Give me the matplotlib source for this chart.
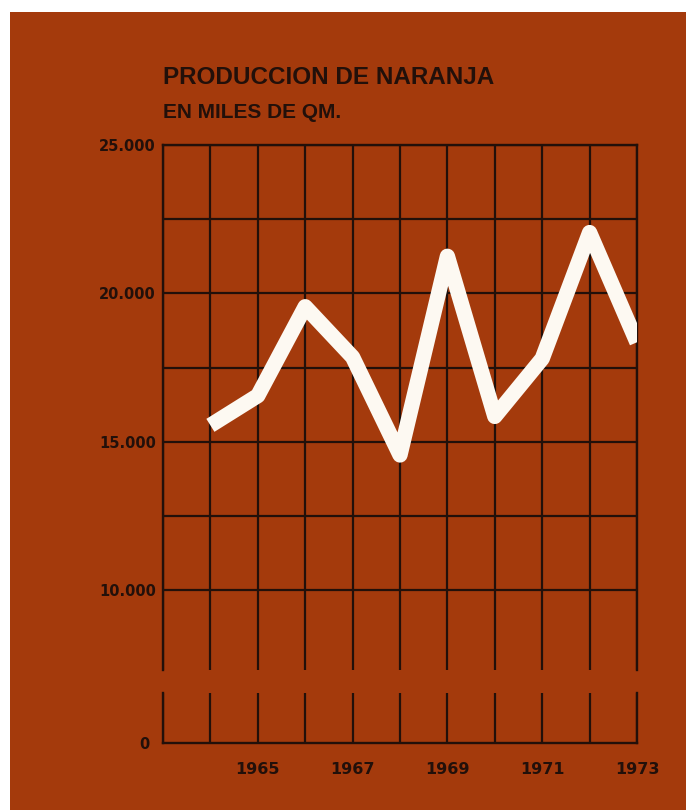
import matplotlib
matplotlib.use("Agg")
import matplotlib.pyplot as plt
from matplotlib.patches import Rectangle

# ---- data ----
years = [1964, 1965, 1966, 1967, 1968, 1969, 1970, 1971, 1972, 1973]
produccion = [15550, 16550, 19550, 17850, 14550, 21250, 15850, 17800, 22050, 18350]
xtick_years = [1965, 1967, 1969, 1971, 1973]
xtick_labels = ["1965", "1967", "1969", "1971", "1973"]
ytick_values = [10000, 15000, 20000, 25000]
ytick_labels = ["10.000", "15.000", "20.000", "25.000"]
title = "PRODUCCION DE NARANJA"
subtitle = "EN MILES DE QM."

W, H = 686, 810
BG = "#A43A0C"
INK = "#22100a"
LINE = "#fdf9f2"

fig = plt.figure(figsize=(W / 100, H / 100), dpi=100, facecolor="white")
fig.patches.append(Rectangle((10 / W, 0), 1 - 10 / W, 1 - 12 / H,
                             transform=fig.transFigure, facecolor=BG,
                             edgecolor="none", zorder=-10))

def fx(px):
    return px / W

def fy(py):
    return 1 - py / H

left, right = 163, 637
top_t, top_b = 145, 670
bot_t, bot_b = 693, 743
ppu = (590 - 145) / 15000.0  # px per unit

ax = fig.add_axes([fx(left), fy(top_b), fx(right) - fx(left), fy(top_t) - fy(top_b)])
ax2 = fig.add_axes([fx(left), fy(bot_b), fx(right) - fx(left), fy(bot_t) - fy(bot_b)])

ylo = 10000 - (top_b - 590) / ppu
ax.set_ylim(ylo, 25000)
ax2.set_ylim(0, (bot_b - bot_t) / ppu)

title_family = ["Liberation Sans", "DejaVu Sans"]
tick_family = ["DejaVu Sans"]

for a in (ax, ax2):
    a.set_facecolor("none")
    a.set_xlim(1963, 1973)
    a.set_xticks(range(1963, 1974), minor=True)
    a.tick_params(which="both", length=0)
    a.grid(which="both", axis="x", color=INK, linewidth=1.6)
    for s in a.spines.values():
        s.set_color(INK)
        s.set_linewidth(1.7)

ax.spines["bottom"].set_visible(False)
ax2.spines["top"].set_visible(False)

ax.set_xticks([])
ax.set_xticks(range(1963, 1974), minor=True)
ax.set_yticks(ytick_values)
ax.set_yticklabels(ytick_labels)
ax.set_yticks(range(10000, 25001, 2500), minor=True)
ax.grid(which="both", axis="y", color=INK, linewidth=1.6)
ax.tick_params(axis="y", pad=5, labelsize=10.5, labelcolor=INK)
for t in ax.get_yticklabels():
    t.set_family(tick_family)
    t.set_fontweight("bold")

ax2.set_yticks([0])
ax2.set_yticklabels(["0"])
ax2.tick_params(axis="y", pad=10, labelsize=10.5, labelcolor=INK)
ax2.set_xticks(xtick_years)
ax2.set_xticklabels(xtick_labels)
ax2.tick_params(axis="x", pad=14, labelsize=11.5, labelcolor=INK)
for t in ax2.get_xticklabels() + ax2.get_yticklabels():
    t.set_family(tick_family)
    t.set_fontweight("bold")

ax.plot(years, produccion, color=LINE, linewidth=11,
        solid_joinstyle="round", solid_capstyle="butt", zorder=5)

fig.text(fx(163), fy(77), title, fontsize=17.5, fontweight="bold",
         family=title_family, color=INK, va="center", ha="left")
fig.text(fx(163), fy(113), subtitle, fontsize=15, fontweight="bold",
         family=title_family, color=INK, va="center", ha="left")

fig.savefig("out.png", dpi=100, facecolor=fig.get_facecolor())
